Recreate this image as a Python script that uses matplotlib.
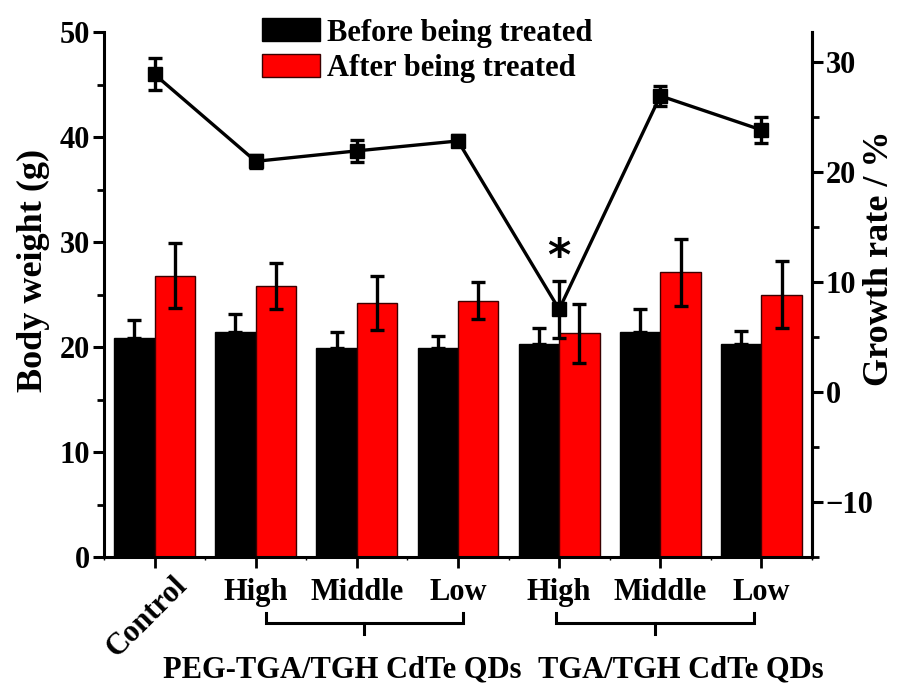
import matplotlib
matplotlib.use("Agg")
import matplotlib.pyplot as plt
import numpy as np
from matplotlib.patches import Patch

categories = ["Control", "High", "Middle", "Low", "High", "Middle", "Low"]
before = [20.9, 21.4, 19.9, 19.9, 20.3, 21.4, 20.3]
before_err = [1.7, 1.7, 1.5, 1.15, 1.5, 2.2, 1.2]
after = [26.8, 25.8, 24.2, 24.4, 21.3, 27.1, 25.0]
after_err = [3.1, 2.2, 2.6, 1.75, 2.8, 3.2, 3.2]
growth = [28.85, 20.95, 21.9, 22.8, 7.5, 26.9, 23.8]
growth_err = [1.45, 0.6, 1.0, 0.5, 2.6, 0.9, 1.2]
group_labels = ["PEG-TGA/TGH CdTe QDs", "TGA/TGH CdTe QDs"]

plt.rcParams['font.family'] = ['Liberation Serif', 'DejaVu Serif']
plt.rcParams['font.weight'] = 'bold'
FS = 22
FSL = 26

fig = plt.figure(figsize=(8.99, 6.91), dpi=100)
ax = fig.add_axes([104/899, 1-557/691, (812-104)/899, (557-32)/691])
x = np.arange(len(categories))
w = 0.4
ax.bar(x - w/2, before, w, color='black', edgecolor='black', linewidth=1)
ax.bar(x + w/2, after, w, color='#ff0000', edgecolor='#3a0000', linewidth=1)
ax.errorbar(x - w/2, before, yerr=[np.zeros(len(before)), before_err], fmt='none',
            ecolor='black', elinewidth=2.4, capsize=5, capthick=2.4)
ax.errorbar(x + w/2, after, yerr=after_err, fmt='none',
            ecolor='black', elinewidth=2.4, capsize=5, capthick=2.4)
ax.set_xlim(-0.5, 6.5)
ax.set_ylim(0, 50)
ax.set_yticks(np.arange(0, 51, 10))
ax.set_yticks(np.arange(0, 51, 5), minor=True)
ax.set_xticks(x)
ax.set_xticklabels([])
ax.set_xticks(np.arange(-0.5, 6.6, 1), minor=True)
for s in ['left', 'bottom', 'right']:
    ax.spines[s].set_linewidth(2.2)
ax.spines['top'].set_visible(False)
ax.tick_params(axis='y', which='major', direction='out', length=8, width=2.2, labelsize=FS, pad=2)
ax.tick_params(axis='y', which='minor', direction='out', length=5, width=2)
ax.tick_params(axis='x', which='major', direction='out', length=8, width=2)
ax.tick_params(axis='x', which='minor', direction='out', length=2, width=1)
ax.set_ylabel("Body weight (g)", fontsize=FSL, fontweight='bold')
ax.yaxis.set_label_coords(-0.076, 0.545)

ax2 = ax.twinx()
ax2.errorbar(x, growth, yerr=growth_err, fmt='-s', color='black', lw=2.4,
             markersize=10, elinewidth=2.4, capsize=5, capthick=2.4)
ax2.set_ylim(-15, 32.7)
ax2.set_yticks(np.arange(-10, 31, 10))
ax2.set_yticks(np.arange(-15, 31, 5), minor=True)
ax2.spines['right'].set_linewidth(2.2)
ax2.spines['top'].set_visible(False)
ax2.spines['left'].set_visible(False)
ax2.spines['bottom'].set_visible(False)
ax2.tick_params(axis='y', which='major', direction='out', length=8, width=2.2, labelsize=FS, pad=2)
ax2.tick_params(axis='y', which='minor', direction='out', length=5, width=2)
ax2.set_ylabel("Growth rate / %", fontsize=FSL, fontweight='bold', rotation=90)
ax2.yaxis.set_label_coords(1.072, 0.57)
ax2.text(4, 12.2, "*", ha='center', va='center',
         fontsize=32, fontweight='bold', family='DejaVu Sans')

# category labels
for i, c in enumerate(categories):
    if i == 0:
        ax.text(i + 0.18, -1.3, c, rotation=45, ha='right', va='top', fontsize=FS,
                fontweight='bold', rotation_mode='anchor')
    else:
        ax.text(i, -2.0, c, ha='center', va='top', fontsize=FS, fontweight='bold')

# brackets
def bracket(x0, x1):
    yb = -6.3
    ax.plot([x0, x0, x1, x1], [yb + 1.0, yb, yb, yb + 1.0], color='black', lw=2.2,
            clip_on=False, solid_joinstyle='miter')
    xm = (x0 + x1) / 2
    ax.plot([xm, xm], [yb, yb - 1.0], color='black', lw=2.2, clip_on=False)

bracket(1.1, 3.05)
bracket(3.97, 5.93)
ax.text(1.86, -10.8, group_labels[0], ha='center', va='center', fontsize=FS, fontweight='bold')
ax.text(5.2, -10.8, group_labels[1], ha='center', va='center', fontsize=FS, fontweight='bold')

handles = [Patch(facecolor='black', edgecolor='black'),
           Patch(facecolor='#ff0000', edgecolor='#3a0000')]
leg = ax.legend(handles, ["Before being treated", "After being treated"],
                loc='upper left', bbox_to_anchor=(241/899, 1 + 3/691),
                bbox_transform=fig.transFigure, frameon=False,
                prop={'size': FS, 'weight': 'bold'},
                handlelength=1.9, handleheight=0.78, handletextpad=0.2,
                labelspacing=0.2, borderpad=0.2)

fig.savefig("out.png", dpi=100)
